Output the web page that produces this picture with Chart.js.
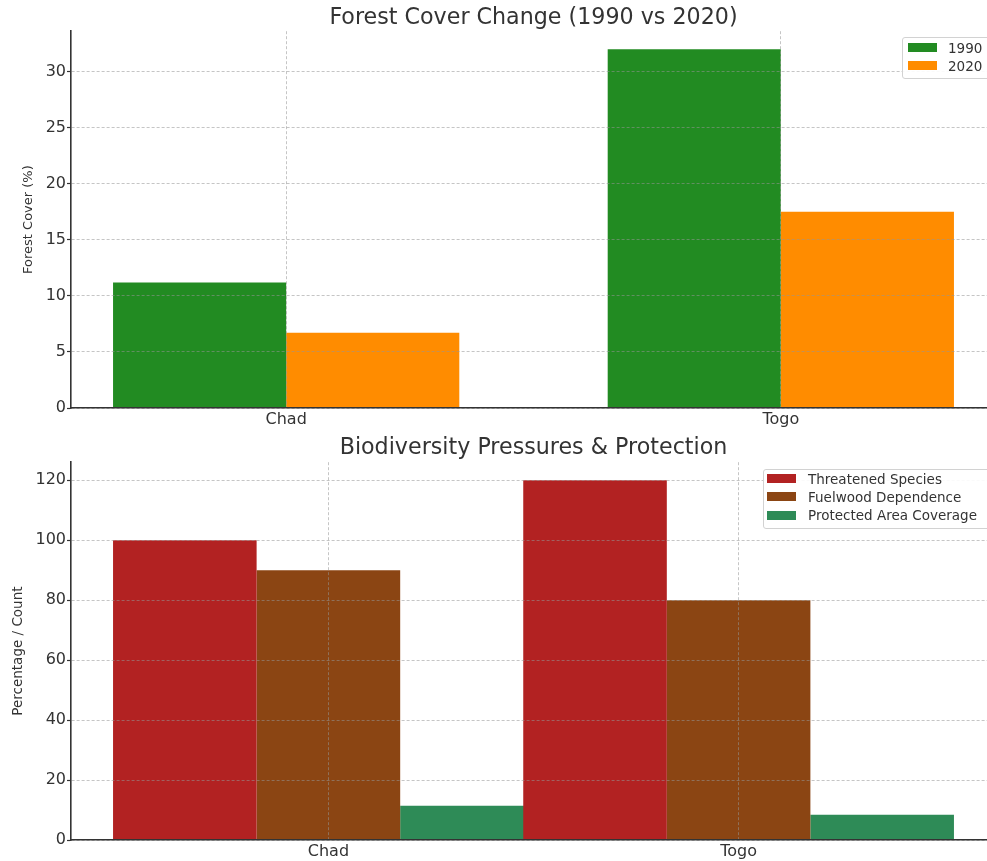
<!DOCTYPE html>
<html>
<head>
<meta charset="utf-8">
<script src="https://cdn.jsdelivr.net/npm/chart.js@4.4.1/dist/chart.umd.min.js"></script>
<style>
  body { margin: 0; background: #fff; overflow: hidden; width: 987px; height: 861px; position: relative; font-family: "DejaVu Sans", sans-serif; }
  canvas { position: absolute; left: 0; }
  #forestChart { top: 0; }
  #bioChart { top: 430px; }
  .legend { position: absolute; background: rgba(255,255,255,0.9); border: 1px solid #d2d2d2; border-radius: 3px; }
  .legend .sw { position: absolute; width: 29px; height: 9px; }
  .legend .lb { position: absolute; font-size: 13.5px; color: #333; line-height: 16px; white-space: nowrap; }
</style>
</head>
<body>
<canvas id="forestChart" width="996" height="430"></canvas>
<canvas id="bioChart" width="996" height="431"></canvas>
<div id="forestLegend" class="legend" style="left:902px; top:37px; width:100px; height:40px;"></div>
<div id="bioLegend" class="legend" style="left:763px; top:469px; width:240px; height:58px;"></div>
<script>
// data
const categories = ['Chad', 'Togo'];
const forest1990 = [11.2, 32.0];
const forest2020 = [6.7, 17.5];
const threatenedSpecies = [100, 120];
const fuelwoodDependence = [90, 80];
const protectedArea = [11.4, 8.4];
const forestTicks = [0, 5, 10, 15, 20, 25, 30];
const bioTicks = [0, 20, 40, 60, 80, 100, 120];

const forestLabels = ['1990', '2020'];
const forestColors = ['#228B22', '#FF8C00'];
const bioLabels = ['Threatened Species', 'Fuelwood Dependence', 'Protected Area Coverage'];
const bioColors = ['#B22222', '#8B4513', '#2E8B57'];

Chart.defaults.font.family = '"DejaVu Sans", sans-serif';
Chart.defaults.color = '#333';

const gridColor = 'rgba(150,150,150,0.55)';

function toPoints(vals) {
  return vals.map((v, i) => ({x: i, y: v}));
}

function xScale(min, max, h) {
  return {
    type: 'linear',
    min: min,
    max: max,
    offset: false,
    afterBuildTicks: s => { s.ticks = categories.map((c, i) => ({value: i})); },
    afterFit: s => { s.height = h; },
    ticks: { callback: v => categories[v], color: '#333', font: {size: 16}, padding: 2, autoSkip: false, maxRotation: 0 },
    grid: { color: gridColor, z: 1, drawTicks: false, offset: false },
    border: { color: '#333', width: 1.6, dash: [3, 2], z: 2 }
  };
}

function yScale(max, tickVals, title, titleSize, titlePad) {
  return {
    min: 0,
    max: max,
    afterBuildTicks: s => { s.ticks = tickVals.map(v => ({value: v})); },
    afterFit: s => { s.width = 71; },
    ticks: { color: '#333', font: {size: 16}, padding: 1 },
    grid: { color: gridColor, z: 1, tickLength: 4, tickColor: '#333', tickWidth: 1.2, tickBorderDash: [] },
    border: { color: '#333', width: 1.6, dash: [3, 2], z: 2 },
    title: { display: true, text: title, color: '#333', font: {size: titleSize}, padding: {top: titlePad, bottom: 0} }
  };
}

function titleOpts(text, padBottom) {
  return {
    display: true, text: text, color: '#333', fullSize: false,
    font: {size: 22.2, weight: 'normal', lineHeight: 1.0},
    padding: {top: 7.4, bottom: padBottom}
  };
}

new Chart(document.getElementById('forestChart'), {
  type: 'bar',
  data: {
    datasets: [
      { label: forestLabels[0], data: toPoints(forest1990), backgroundColor: forestColors[0] },
      { label: forestLabels[1], data: toPoints(forest2020), backgroundColor: forestColors[1] }
    ]
  },
  options: {
    responsive: false,
    animation: false,
    devicePixelRatio: 1,
    layout: { padding: 0 },
    categoryPercentage: 0.7,
    barPercentage: 1.0,
    plugins: {
      legend: { display: false },
      tooltip: { enabled: false },
      title: titleOpts('Forest Cover Change (1990 vs 2020)', 1.6)
    },
    scales: {
      x: xScale(-0.435, 1.435, 22),
      y: yScale(33.6, forestTicks, 'Forest Cover (%)', 13, 21)
    }
  }
});

new Chart(document.getElementById('bioChart'), {
  type: 'bar',
  data: {
    datasets: [
      { label: bioLabels[0], data: toPoints(threatenedSpecies), backgroundColor: bioColors[0] },
      { label: bioLabels[1], data: toPoints(fuelwoodDependence), backgroundColor: bioColors[1] },
      { label: bioLabels[2], data: toPoints(protectedArea), backgroundColor: bioColors[2] }
    ]
  },
  options: {
    responsive: false,
    animation: false,
    devicePixelRatio: 1,
    layout: { padding: 0 },
    categoryPercentage: 1.05,
    barPercentage: 1.0,
    plugins: {
      legend: { display: false },
      tooltip: { enabled: false },
      title: titleOpts('Biodiversity Pressures & Protection', 2.6)
    },
    scales: {
      x: xScale(-0.6275, 1.6275, 21),
      y: yScale(126, bioTicks, 'Percentage / Count', 13.5, 10)
    }
  }
});

// legends
function makeLegend(id, labels, colors, swLeft, swTop, rowGap, textLeft) {
  const box = document.getElementById(id);
  labels.forEach((lab, i) => {
    const top = swTop + i * rowGap;
    const sw = document.createElement('div');
    sw.className = 'sw';
    sw.style.left = swLeft + 'px';
    sw.style.top = top + 'px';
    sw.style.background = colors[i];
    box.appendChild(sw);
    const lb = document.createElement('div');
    lb.className = 'lb';
    lb.style.left = textLeft + 'px';
    lb.style.top = (top - 3.5) + 'px';
    lb.textContent = lab;
    box.appendChild(lb);
  });
}
makeLegend('forestLegend', forestLabels, forestColors, 5, 5, 18, 45);
makeLegend('bioLegend', bioLabels, bioColors, 3, 4, 18.3, 44);
</script>
</body>
</html>
